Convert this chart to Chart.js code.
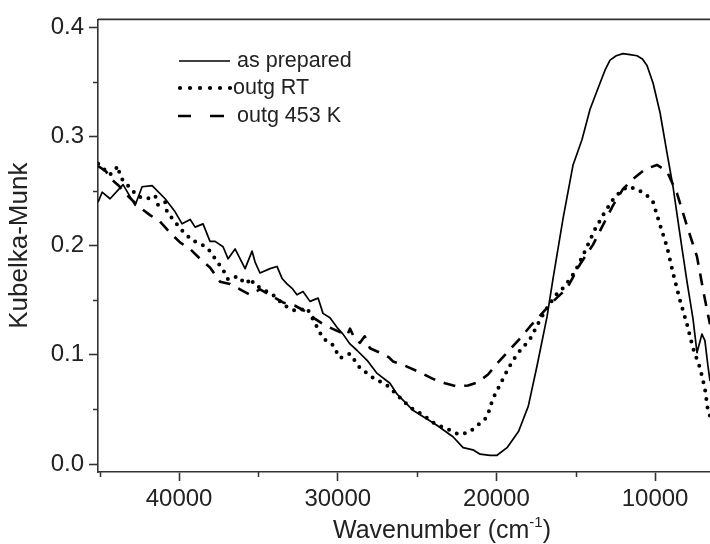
<!DOCTYPE html>
<html><head><meta charset="utf-8">
<script src="https://cdn.jsdelivr.net/npm/chart.js@4/dist/chart.umd.min.js"></script>
<style>html,body{margin:0;padding:0;background:#fff;overflow:hidden}#wrap{width:710px;height:544px;position:relative}</style>
</head><body><div id="wrap"><canvas id="c" width="710" height="544"></canvas></div>
<script>
// ---- data (wavenumber in cm-1, Kubelka-Munk value) ----
const seriesNames = ['as prepared', 'outg RT', 'outg 453 K'];

const asPreparedX = [
 45100,44850,44350,43530,42770,42330,41700,40880,40250,39810,
 39300,38990,38490,38050,37730,37230,36910,36470,35840,35400,
 35210,34900,34270,33830,33510,33200,32880,32570,32190,31750,
 31240,30930,30490,30040,29670,29230,28780,28150,27520,26710,
 26260,25240,23800,22740,22100,21480,21030,20400,19960,19330,
 18600,17990,17440,16810,16430,15800,15170,14610,14100,13470,
 13150,12840,12450,12020,11580,11140,10800,10510,10130,9690,
 9250,8870,8430,7990,7610,7360,7050,6860,6670,6540];
const asPreparedY = [
 0.240,0.249,0.243,0.256,0.237,0.254,0.255,0.243,0.231,0.220,
 0.224,0.217,0.220,0.204,0.204,0.199,0.188,0.197,0.179,0.195,
 0.185,0.175,0.179,0.181,0.170,0.165,0.161,0.155,0.158,0.149,
 0.152,0.138,0.134,0.125,0.119,0.110,0.104,0.095,0.083,0.074,
 0.064,0.049,0.036,0.025,0.015,0.013,0.009,0.008,0.008,0.015,
 0.030,0.053,0.090,0.135,0.170,0.225,0.274,0.297,0.325,0.349,
 0.361,0.370,0.374,0.376,0.375,0.374,0.371,0.365,0.349,0.322,
 0.285,0.254,0.210,0.167,0.133,0.102,0.119,0.113,0.090,0.076];

const outgRTX = [
 45100,44350,43840,43720,42960,42580,42020,41510,41320,40880,
 40760,40440,39750,39180,38550,38050,37730,37230,36910,36280,
 35840,35400,35340,34710,34080,33640,33130,32570,31940,31430,
 30930,30360,29860,29230,28600,27780,26890,26520,25450,24630,
 24000,23430,22930,22360,21730,21220,20590,20220,19900,19590,
 19270,18960,18510,18140,17760,17510,16940,16310,15680,15050,
 14420,13790,13160,12530,11770,11140,10510,10130,9690,9250,
 8870,8430,7990,7610,7170,6860,6670,6540];
const outgRTY = [
 0.275,0.265,0.273,0.263,0.251,0.245,0.243,0.246,0.237,0.240,
 0.231,0.225,0.213,0.205,0.201,0.195,0.188,0.178,0.169,0.172,
 0.165,0.170,0.165,0.160,0.155,0.149,0.143,0.140,0.143,0.129,
 0.115,0.110,0.097,0.101,0.088,0.079,0.072,0.067,0.052,0.045,
 0.038,0.034,0.031,0.027,0.029,0.035,0.043,0.060,0.069,0.078,
 0.087,0.095,0.104,0.110,0.117,0.125,0.140,0.154,0.163,0.176,
 0.195,0.215,0.231,0.245,0.254,0.252,0.246,0.240,0.219,0.199,
 0.175,0.150,0.128,0.106,0.088,0.069,0.049,0.044];

const outg453X = [
 45100,44600,44350,43800,43400,42900,42460,41830,41200,40570,
 39940,39310,38680,38050,37420,36790,36160,35530,34900,34270,
 33450,32690,32060,31430,30800,30040,29400,29230,28900,28600,
 28300,27970,27340,26800,26520,25760,24820,24000,23240,22480,
 21790,21160,20530,19960,19270,18510,17880,17250,16500,15550,
 14730,13910,13280,12650,12020,11390,10640,9880,9250,8620,
 7990,7360,6980,6670,6540];
const outg453Y = [
 0.273,0.268,0.262,0.255,0.248,0.241,0.235,0.228,0.222,0.212,
 0.203,0.197,0.188,0.180,0.167,0.165,0.160,0.155,0.160,0.155,
 0.148,0.145,0.140,0.133,0.127,0.122,0.118,0.124,0.114,0.111,
 0.117,0.106,0.102,0.098,0.094,0.090,0.084,0.078,0.074,0.071,
 0.072,0.075,0.082,0.092,0.103,0.115,0.126,0.136,0.148,0.161,
 0.183,0.201,0.219,0.237,0.252,0.261,0.270,0.274,0.268,0.248,
 0.218,0.190,0.160,0.137,0.128];

const xMajorTicks = [40000, 30000, 20000, 10000];
const xMinorTicks = [45000, 35000, 25000, 15000];
const yMajorTicks = [0.0, 0.1, 0.2, 0.3, 0.4];
const yMinorTicks = [0.05, 0.15, 0.25, 0.35];
const xTitle = 'Wavenumber (cm';
const xTitleSup = '-1';
const yTitle = 'Kubelka-Munk';

// ---- chart ----
const FONT = "'Liberation Sans', Arial, sans-serif";
const AX = '#333';
function pts(xs, ys) { return xs.map((x, i) => ({ x: x, y: ys[i] })); }

const styles = [
  { borderWidth: 1.7, borderDash: [], borderCapStyle: 'butt' },
  { borderWidth: 4, borderDash: [0, 8.5], borderCapStyle: 'round' },
  { borderWidth: 2.6, borderDash: [12, 9], borderCapStyle: 'butt' }
];
const seriesData = [pts(asPreparedX, asPreparedY), pts(outgRTX, outgRTY), pts(outg453X, outg453Y)];

const extras = {
  id: 'extras',
  afterDraw(chart) {
    const ctx = chart.ctx, ca = chart.chartArea;
    const xs = chart.scales.x, ys = chart.scales.y;
    ctx.save();
    ctx.strokeStyle = AX; ctx.lineWidth = 1.6;
    ctx.beginPath(); ctx.moveTo(ca.left, ca.top); ctx.lineTo(ca.right, ca.top); ctx.stroke();
    ctx.lineWidth = 1.5;
    xMinorTicks.forEach(v => {
      const p = Math.round(xs.getPixelForValue(v)) + 0.5;
      if (p < ca.left - 1 || p > ca.right) return;
      ctx.beginPath(); ctx.moveTo(p, ca.bottom); ctx.lineTo(p, ca.bottom + 5); ctx.stroke();
    });
    yMinorTicks.forEach(v => {
      const p = Math.round(ys.getPixelForValue(v)) + 0.5;
      ctx.beginPath(); ctx.moveTo(ca.left, p); ctx.lineTo(ca.left - 5, p); ctx.stroke();
    });
    // x title with superscript
    ctx.fillStyle = '#222';
    ctx.textBaseline = 'alphabetic';
    ctx.font = '25px ' + FONT;
    const w1 = ctx.measureText(xTitle).width;
    ctx.font = '15px ' + FONT;
    const w2 = ctx.measureText(xTitleSup).width;
    ctx.font = '25px ' + FONT;
    const w3 = ctx.measureText(')').width;
    const cx = 442, base = 538;
    let x0 = cx - (w1 + w2 + w3) / 2;
    ctx.textAlign = 'left';
    ctx.fillText(xTitle, x0, base);
    ctx.font = '15px ' + FONT;
    ctx.fillText(xTitleSup, x0 + w1, base - 11);
    ctx.font = '25px ' + FONT;
    ctx.fillText(')', x0 + w1 + w2, base);
    // legend
    const rows = [61, 88, 116];
    ctx.strokeStyle = '#000'; ctx.fillStyle = '#000';
    ctx.lineWidth = 1.7; ctx.setLineDash([]);
    ctx.beginPath(); ctx.moveTo(179, rows[0]); ctx.lineTo(230, rows[0]); ctx.stroke();
    for (let i = 0; i < 6; i++) {
      ctx.beginPath(); ctx.arc(180 + i * 10, rows[1], 2.1, 0, Math.PI * 2); ctx.fill();
    }
    ctx.lineWidth = 2.6;
    ctx.beginPath(); ctx.moveTo(178, rows[2]); ctx.lineTo(191, rows[2]);
    ctx.moveTo(210, rows[2]); ctx.lineTo(224, rows[2]); ctx.stroke();
    ctx.font = '21.5px ' + FONT; ctx.fillStyle = '#222';
    ctx.fillText(seriesNames[0], 237, rows[0] + 6);
    ctx.fillText(seriesNames[1], 233, rows[1] + 6);
    ctx.fillText(seriesNames[2], 237, rows[2] + 6);
    ctx.restore();
  }
};

new Chart(document.getElementById('c'), {
  type: 'line',
  data: {
    datasets: seriesData.map((d, i) => Object.assign({
      label: seriesNames[i], data: d,
      borderColor: '#000', backgroundColor: '#000',
      pointRadius: 0, tension: 0, fill: false, borderJoinStyle: 'round'
    }, styles[i]))
  },
  options: {
    responsive: false, animation: false, devicePixelRatio: 1,
    layout: { padding: { top: 16, right: 0, left: 0, bottom: 0 } },
    plugins: { legend: { display: false }, tooltip: { enabled: false } },
    scales: {
      x: {
        type: 'linear', reverse: true, min: 6540, max: 45110,
        afterFit(s) { s.height = 72; },
        afterBuildTicks(s) { s.ticks = xMajorTicks.map(v => ({ value: v })); },
        ticks: { autoSkip: false, maxRotation: 0, padding: 4, color: '#222',
                 font: { family: FONT, size: 24 }, callback: v => String(v) },
        grid: { display: true, drawOnChartArea: false, drawTicks: true, tickLength: 9,
                tickColor: AX, tickWidth: 1.6 },
        border: { display: true, color: AX, width: 1.6 },
        title: { display: false }
      },
      y: {
        type: 'linear', min: -0.0073, max: 0.4073,
        afterFit(s) { s.width = 98; },
        afterBuildTicks(s) { s.ticks = yMajorTicks.map(v => ({ value: v })); },
        ticks: { autoSkip: false, padding: 5, color: '#222',
                 font: { family: FONT, size: 24 }, callback: v => Number(v).toFixed(1) },
        grid: { display: true, drawOnChartArea: false, drawTicks: true, tickLength: 9,
                tickColor: AX, tickWidth: 1.6 },
        border: { display: true, color: AX, width: 1.6 },
        title: { display: true, text: yTitle, color: '#222',
                 font: { family: FONT, size: 26 }, padding: { top: 4, bottom: 0 } }
      }
    }
  },
  plugins: [extras]
});
</script></body></html>
